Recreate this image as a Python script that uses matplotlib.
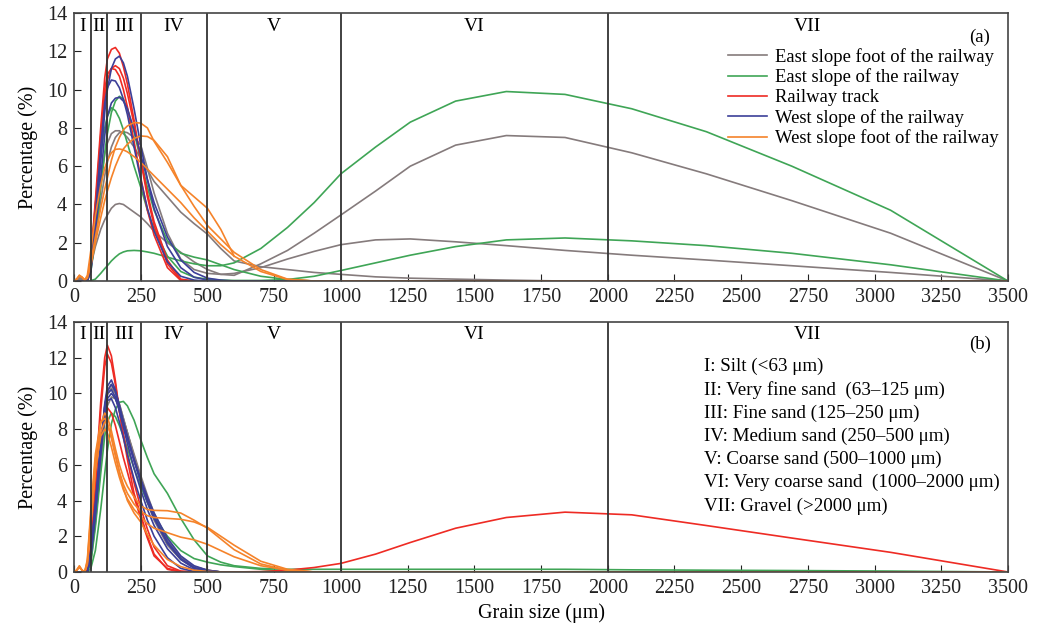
import numpy as np
import matplotlib
matplotlib.use("Agg")
import matplotlib.pyplot as plt

plt.rcParams['font.family'] = ['Liberation Serif', 'DejaVu Serif']

# grain size classes (um) shared by all curves
sizes = [0, 10, 20, 30, 40, 50, 63, 80, 100, 115, 125, 140, 155, 170, 185, 200,
         225, 250, 275, 300, 350, 400, 450, 500, 550, 600, 700, 800, 900,
         1000, 1130, 1260, 1430, 1620, 1840, 2090, 2370, 2690, 3060, 3500]

# ---------- (a) ----------
a_gray = [
    [0, 0.1, 0.2, 0.15, 0.05, 0.1, 1.2, 3.0, 5.2, 6.6, 7.2, 7.7, 7.85, 7.85, 7.7, 7.5,
     7.0, 6.4, 5.8, 5.2, 4.4, 3.6, 3.0, 2.45, 1.7, 1.05, 0.75, 0.6, 0.45, 0.35, 0.22, 0.15, 0.1, 0.05],
    [0, 0, 0.1, 0.1, 0, 0.1, 0.8, 2.2, 4.2, 5.5, 6.2, 7.0, 7.5, 7.75, 7.8, 7.75,
     7.5, 7.1, 5.9, 4.6, 2.5, 1.15, 0.6, 0.4, 0.35, 0.4, 0.7, 1.15, 1.55, 1.9, 2.15, 2.2,
     2.05, 1.85, 1.6, 1.35, 1.1, 0.8, 0.45, 0],
    [0, 0.1, 0.15, 0.1, 0, 0.1, 0.8, 1.8, 2.7, 3.2, 3.45, 3.8, 4.0, 4.05, 4.0, 3.85,
     3.6, 3.35, 3.0, 2.6, 2.0, 1.5, 1.0, 0.6, 0.35, 0.3, 0.9, 1.6, 2.5, 3.45, 4.7, 6.0,
     7.1, 7.6, 7.5, 6.7, 5.6, 4.2, 2.5, 0],
]
a_green = [
    [0, 0, 0, 0, 0, 0, 0.5, 2.2, 4.8, 6.7, 7.7, 8.8, 9.4, 9.65, 9.5, 9.0,
     7.8, 6.3, 4.9, 3.7, 2.1, 1.45, 1.25, 1.1, 0.85, 0.6, 0.25, 0.08, 0],
    [0, 0, 0, 0, 0, 0, 1.2, 4.0, 6.6, 8.0, 8.6, 9.05, 8.9, 8.5, 7.9, 7.2,
     6.0, 4.9, 3.7, 2.7, 1.3, 0.5, 0.2, 0.1, 0.05, 0.03, 0.03, 0.08, 0.25, 0.55, 0.95, 1.35,
     1.8, 2.15, 2.25, 2.1, 1.85, 1.45, 0.85, 0],
    [0, 0, 0, 0, 0, 0, 0.02, 0.1, 0.4, 0.65, 0.8, 1.05, 1.25, 1.42, 1.52, 1.58,
     1.6, 1.58, 1.52, 1.45, 1.25, 1.05, 0.9, 0.8, 0.8, 0.95, 1.7, 2.8, 4.1, 5.6, 7.0, 8.3,
     9.4, 9.9, 9.75, 9.0, 7.8, 6.0, 3.7, 0],
]
a_red = [
    [0, 0, 0, 0, 0, 0, 1.2, 4.2, 8.0, 10.6, 11.6, 12.1, 12.2, 11.9, 11.2, 10.3,
     8.4, 6.3, 4.4, 2.9, 0.9, 0.05, 0],
    [0, 0, 0, 0, 0, 0, 0.9, 3.6, 7.2, 9.6, 10.5, 11.1, 11.25, 11.1, 10.6, 9.8,
     8.2, 6.4, 4.6, 3.1, 1.1, 0.1, 0],
    [0, 0, 0, 0, 0, 0, 1.0, 3.9, 7.6, 10.0, 10.8, 11.1, 11.05, 10.7, 10.0, 9.1,
     7.3, 5.4, 3.7, 2.4, 0.7, 0.03, 0],
]
a_blue = [
    [0, 0, 0, 0, 0, 0, 0.6, 2.8, 6.2, 8.8, 10.0, 11.1, 11.6, 11.75, 11.4, 10.7,
     9.0, 7.1, 5.3, 3.8, 1.8, 0.7, 0.2, 0.05, 0],
    [0, 0, 0, 0, 0, 0, 0.8, 3.4, 7.0, 9.3, 10.1, 10.5, 10.45, 10.1, 9.5, 8.7,
     7.0, 5.3, 3.8, 2.6, 1.0, 0.25, 0.05, 0],
    [0, 0, 0, 0, 0, 0, 0.5, 2.5, 5.4, 7.6, 8.6, 9.3, 9.55, 9.6, 9.4, 9.0,
     7.9, 6.6, 5.3, 4.1, 2.3, 1.1, 0.45, 0.15, 0.05, 0],
]
a_orange = [
    [0, 0.1, 0.3, 0.2, 0.05, 0.2, 1.0, 2.3, 3.8, 4.8, 5.4, 6.3, 7.0, 7.5, 7.9, 8.1,
     8.28, 8.25, 8.0, 7.3, 6.2, 5.0, 4.4, 3.8, 2.7, 1.3],
    [0, 0.1, 0.25, 0.2, 0.05, 0.15, 0.8, 2.0, 3.3, 4.2, 4.7, 5.4, 6.0, 6.5, 6.9, 7.15,
     7.45, 7.58, 7.55, 7.35, 6.5, 5.0, 3.9, 2.9, 2.2, 1.5, 0.6, 0.1, 0],
    [0, 0.1, 0.3, 0.2, 0.05, 0.3, 1.6, 3.4, 5.0, 5.9, 6.3, 6.7, 6.88, 6.9, 6.85, 6.75,
     6.5, 6.2, 5.85, 5.5, 4.8, 4.1, 3.3, 2.6, 1.9, 1.3, 0.5, 0.08, 0],
]
# first orange trace of (a) stops near 610 um
a_orange_end = [True, False, False]

# ---------- (b) ----------
b_gray = [
    [0, 0, 0, 0, 0, 0, 0.8, 3.2, 6.8, 9.2, 10.2, 10.5, 10.1, 9.4, 8.6, 7.8,
     6.5, 5.3, 4.1, 3.1, 1.7, 0.8, 0.3, 0.1, 0],
    [0, 0, 0, 0, 0, 0, 0.7, 3.0, 6.5, 8.9, 9.9, 10.3, 10.0, 9.4, 8.6, 7.8,
     6.4, 5.1, 3.9, 2.9, 1.5, 0.7, 0.25, 0.08, 0],
    [0, 0, 0, 0, 0, 0, 0.6, 2.7, 6.0, 8.3, 9.3, 9.8, 9.7, 9.2, 8.5, 7.8,
     6.6, 5.4, 4.3, 3.3, 1.8, 0.85, 0.3, 0.1, 0],
]
b_green = [
    [0, 0, 0, 0, 0, 0, 0.2, 1.2, 3.5, 5.5, 6.8, 8.3, 9.1, 9.5, 9.55, 9.3,
     8.5, 7.4, 6.4, 5.5, 4.4, 3.0, 1.8, 0.9, 0.55, 0.35, 0.2, 0.15, 0.15, 0.15, 0.15, 0.15,
     0.15, 0.15, 0.15, 0.12, 0.1, 0.08, 0.05, 0],
    [0, 0, 0, 0, 0, 0, 0.5, 2.5, 5.5, 7.6, 8.4, 8.9, 8.7, 8.2, 7.6, 6.9,
     5.8, 4.8, 3.9, 3.1, 2.0, 1.2, 0.75, 0.55, 0.4, 0.3, 0.15, 0.05, 0],
]
b_red = [
    [0, 0, 0, 0, 0, 0.1, 1.5, 5.0, 9.5, 12.0, 12.7, 12.1, 10.7, 9.0, 7.6, 6.3,
     4.4, 3.2, 2.0, 1.0, 0.15, 0],
    [0, 0, 0, 0, 0, 0.1, 1.3, 4.6, 9.0, 11.5, 12.2, 11.7, 10.5, 9.0, 7.7, 6.6,
     5.0, 3.6, 2.4, 1.4, 0.35, 0.05, 0],
    [0, 0, 0, 0, 0, 0.1, 1.2, 4.0, 7.0, 8.7, 9.2, 8.9, 8.2, 7.3, 6.4, 5.6,
     4.2, 3.0, 1.9, 0.9, 0.2, 0.03, 0, 0, 0, 0, 0.02, 0.1, 0.25, 0.48, 1.0, 1.65,
     2.45, 3.05, 3.35, 3.2, 2.6, 1.9, 1.1, 0],
]
b_blue = [
    [0, 0, 0, 0, 0, 0, 1.0, 3.5, 7.0, 9.4, 10.4, 10.75, 10.2, 9.3, 8.4, 7.5,
     6.2, 5.0, 3.9, 3.0, 1.6, 0.7, 0.2, 0.05, 0],
    [0, 0, 0, 0, 0, 0, 0.9, 3.3, 6.8, 9.2, 10.1, 10.5, 10.1, 9.3, 8.4, 7.6,
     6.3, 5.1, 4.0, 3.1, 1.7, 0.75, 0.25, 0.05, 0],
    [0, 0, 0, 0, 0, 0, 1.1, 3.7, 7.1, 9.3, 10.0, 10.2, 9.8, 9.0, 8.1, 7.2,
     5.8, 4.6, 3.5, 2.6, 1.3, 0.5, 0.12, 0.02, 0],
    [0, 0, 0, 0, 0, 0, 0.8, 3.1, 6.5, 8.8, 9.7, 10.0, 9.7, 9.1, 8.3, 7.5,
     6.3, 5.2, 4.2, 3.3, 1.9, 0.9, 0.35, 0.1, 0],
    [0, 0, 0, 0, 0, 0, 1.2, 3.9, 7.2, 9.0, 9.6, 9.7, 9.2, 8.4, 7.5, 6.6,
     5.2, 4.0, 2.9, 2.0, 0.8, 0.2, 0.03, 0],
]
b_orange = [
    [0, 0.1, 0.35, 0.1, 0, 0.6, 3.2, 6.3, 8.3, 8.9, 8.7, 7.9, 6.9, 6.0, 5.3, 4.8,
     4.2, 3.7, 3.5, 3.45, 3.43, 3.3, 2.9, 2.45, 1.85, 1.25, 0.45, 0.1, 0],
    [0, 0.1, 0.3, 0.1, 0, 0.7, 3.5, 6.6, 8.4, 8.6, 8.3, 7.5, 6.5, 5.6, 4.9, 4.4,
     3.8, 3.4, 3.15, 3.05, 3.0, 2.95, 2.8, 2.5, 2.0, 1.5, 0.6, 0.15, 0],
    [0, 0.1, 0.3, 0.1, 0, 0.5, 2.8, 5.8, 7.6, 8.0, 7.8, 7.0, 6.1, 5.3, 4.6, 4.1,
     3.5, 3.1, 2.7, 2.45, 2.2, 1.95, 1.8, 1.55, 1.2, 0.85, 0.35, 0.1, 0],
    [0, 0.1, 0.25, 0.1, 0, 0.4, 2.6, 5.6, 7.8, 8.4, 8.3, 7.6, 6.6, 5.6, 4.7, 4.0,
     3.3, 2.8, 2.1, 1.5, 0.7, 0.3, 0.1, 0.03, 0],
]

groups = ['East slope foot of the railway', 'East slope of the railway',
          'Railway track', 'West slope of the railway', 'West slope foot of the railway']
colors = ['#857b7c', '#3fa556', '#ee2b24', '#3c3f98', '#f5832a']

bounds = [63, 125, 250, 500, 1000, 2000]
zone_names = ['I', 'II', 'III', 'IV', 'V', 'VI', 'VII']
zone_x = [31, 94, 187, 375, 750, 1500, 2750]

class_text = ['I: Silt (<63 μm)',
              'II: Very fine sand  (63–125 μm)',
              'III: Fine sand (125–250 μm)',
              'IV: Medium sand (250–500 μm)',
              'V: Coarse sand (500–1000 μm)',
              'VI: Very coarse sand  (1000–2000 μm)',
              'VII: Gravel (>2000 μm)']

x = np.array(sizes, dtype=float)


def pad(v, stop=False):
    v = list(v)
    fill = np.nan if stop else 0.0
    return np.array(v + [fill] * (len(x) - len(v)))


fig = plt.figure(figsize=(10.44, 6.33), dpi=100)
ax1 = fig.add_axes([0.0709, 0.556, 0.8946, 0.4234])
ax2 = fig.add_axes([0.0709, 0.0964, 0.8946, 0.395])

panels = [(ax1, [a_gray, a_green, a_red, a_blue, a_orange], '(a)'),
          (ax2, [b_gray, b_green, b_red, b_blue, b_orange], '(b)')]

for ax, sets, tag in panels:
    for g, (curves, c) in enumerate(zip(sets, colors)):
        for i, v in enumerate(curves):
            stop = (ax is ax1 and g == 4 and a_orange_end[i])
            ax.plot(x, pad(v, stop), color=c, lw=1.2,
                    label=groups[g] if i == 0 else None)
    for b in bounds:
        ax.axvline(b, color='#333333', lw=1.3)
    ax.set_xlim(0, 3500)
    ax.set_ylim(0, 14)
    ax.set_xticks(np.arange(0, 3501, 250))
    ax.set_yticks(np.arange(0, 15, 2))
    ax.tick_params(direction='in', length=5, labelsize=14.5, colors='#222222', pad=5)
    for s in ax.spines.values():
        s.set_color('#444444')
        s.set_linewidth(1.2)
    ax.set_ylabel('Percentage (%)', fontsize=14.5, labelpad=6)
    for nm, zx in zip(zone_names, zone_x):
        ax.text(zx, 13.3, nm, ha='center', va='center', fontsize=14)
    ax.text(3395, 12.75, tag, ha='center', va='center', fontsize=13.5)

ax1.legend(loc='upper left', bbox_to_anchor=(0.692, 0.897), frameon=False,
           fontsize=13.4, handlelength=2.1, handletextpad=0.45, labelspacing=0.14,
           borderaxespad=0)

for k, t in enumerate(class_text):
    ax2.text(2361, 11.5 - k * 1.30, t, ha='left', va='center', fontsize=13.7)

ax2.set_xlabel('Grain size (μm)', fontsize=14.5)

fig.savefig('out.png', dpi=100)
